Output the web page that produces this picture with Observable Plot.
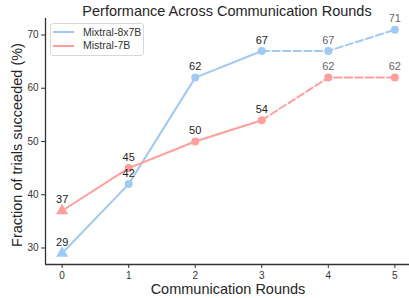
<!DOCTYPE html>
<html>
<head>
<meta charset="utf-8">
<script src="https://cdn.jsdelivr.net/npm/d3@7"></script>
<script src="https://cdn.jsdelivr.net/npm/@observablehq/plot@0.6"></script>
<style>
  html, body { margin: 0; padding: 0; background: #fff; }
  #wrap { position: relative; width: 409px; height: 298px; font-family: "Liberation Sans", Arial, sans-serif; overflow: hidden; }
  .abs { position: absolute; white-space: nowrap; line-height: 1; }
  #title { left: 227px; top: 4px; transform: translateX(-50%); font-size: 14.5px; color: #262626; }
  #xlabel { left: 228px; top: 282px; transform: translateX(-50%); font-size: 14.5px; color: #262626; }
  #ylabel { left: 17px; top: 145px; transform: translate(-50%, -50%) rotate(-90deg); font-size: 14.5px; color: #262626; }
  #legend { left: 50px; top: 23px; width: 92px; height: 31px; border: 1px solid #d8d8d8; border-radius: 3px; background: rgba(255,255,255,0.85); font-size: 10.5px; color: #333; }
  .item { position: absolute; left: 2px; display: flex; align-items: center; }
  .item svg { margin-right: 9px; }
</style>
</head>
<body>
<div id="wrap"></div>
<script>
const rounds = [0, 1, 2, 3, 4, 5];
const mixtral = [29, 42, 62, 67, 67, 71];
const mistral = [37, 45, 50, 54, 62, 62];
const models = ["Mixtral-8x7B", "Mistral-7B"];
const colors = ["#a1c9f4", "#ff9f9b"];
const xTicks = [0, 1, 2, 3, 4, 5];
const yTicks = [30, 40, 50, 60, 70];
const xDomain = [-0.25, 5.22];
const yDomain = [26.9, 73.1];
const titleText = "Performance Across Communication Rounds";
const xLabel = "Communication Rounds";
const yLabel = "Fraction of trials succeeded (%)";

const series = [mixtral, mistral];
const data = models.flatMap((m, i) => rounds.map((r, j) => ({model: m, round: r, value: series[i][j]})));
const solid = data.filter(d => d.round <= 3);
const dashed = data.filter(d => d.round >= 3);

const chart = Plot.plot({
  width: 409,
  height: 298,
  marginLeft: 45,
  marginRight: 0,
  marginTop: 18,
  marginBottom: 34,
  style: {fontFamily: '"Liberation Sans", Arial, sans-serif', fontSize: "10px", color: "#333", background: "transparent", overflow: "visible"},
  x: {domain: xDomain, ticks: xTicks, label: null},
  y: {domain: yDomain, ticks: yTicks, label: null},
  color: {domain: models, range: colors},
  marks: [
    Plot.axisX({ticks: xTicks, tickSize: 4, tickPadding: 3, tickFormat: d => String(d), label: null, stroke: "#333", fill: "#333", fontSize: 10}),
    Plot.axisY({ticks: yTicks, tickSize: 4, tickPadding: 3, label: null, stroke: "#333", fill: "#333", fontSize: 10}),
    Plot.ruleX([xDomain[0]], {stroke: "#333", strokeWidth: 1.3}),
    Plot.ruleY([yDomain[0]], {stroke: "#333", strokeWidth: 1.3}),
    Plot.line(solid, {x: "round", y: "value", z: "model", stroke: "model", strokeWidth: 2}),
    Plot.line(dashed, {x: "round", y: "value", z: "model", stroke: "model", strokeWidth: 2, strokeDasharray: "7.4,3.2"}),
    Plot.dot(data.filter(d => d.round > 0), {x: "round", y: "value", fill: "model", r: 4, stroke: null}),
    Plot.dot(data.filter(d => d.round === 0), {x: "round", y: "value", fill: "model", symbol: "triangle", r: 4.5, stroke: null}),
    Plot.text(data, {x: "round", y: "value", text: d => String(d.value), dy: -11, fontSize: 11, fill: d => d.round >= 4 ? "#666" : "#222"})
  ]
});

const wrap = document.getElementById("wrap");
wrap.appendChild(chart);

function addDiv(id, text) {
  const d = document.createElement("div");
  d.id = id; d.className = "abs"; d.textContent = text;
  wrap.appendChild(d);
  return d;
}
addDiv("title", titleText);
addDiv("xlabel", xLabel);
addDiv("ylabel", yLabel);

const legend = document.createElement("div");
legend.id = "legend"; legend.className = "abs";
models.forEach((m, i) => {
  const item = document.createElement("div");
  item.className = "item";
  item.style.top = (i === 0 ? 1 : 14.5) + "px";
  item.innerHTML = `<svg width="21" height="14"><line x1="0" y1="7" x2="21" y2="7" stroke="${colors[i]}" stroke-width="2"/></svg><span>${m}</span>`;
  legend.appendChild(item);
});
wrap.appendChild(legend);
</script>
</body>
</html>
